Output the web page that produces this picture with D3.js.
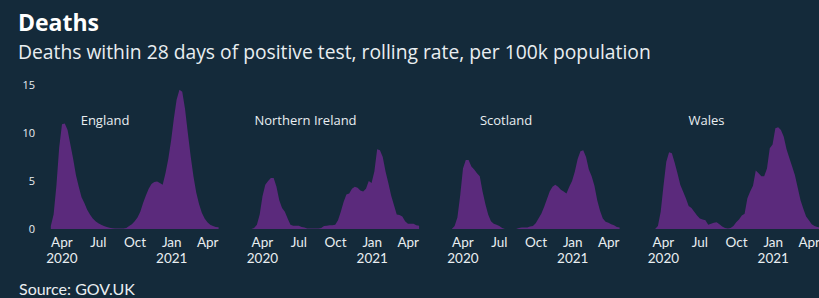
<!DOCTYPE html>
<html>
<head>
<meta charset="utf-8">
<script src="https://cdn.jsdelivr.net/npm/d3@7"></script>
<style>
  html, body { margin: 0; padding: 0; background: #142a3a; }
  svg { display: block; font-family: "Open Sans", sans-serif; }
</style>
</head>
<body>
<svg id="chart" width="819" height="298"></svg>
<script>
// nations, one small multiple each
var regions = [ 'England', 'Northern Ireland', 'Scotland', 'Wales' ];

// weekly rolling rate per 100k, weeks starting Mon 2 Mar 2020
var england = [
  0.3, 1.5, 4.5, 8.5, 10.9, 11.0, 10.3, 8.8, 7.3, 5.6,
  4.4, 3.3, 2.7, 2.0, 1.5, 1.1, 0.8, 0.6, 0.45, 0.3,
  0.2, 0.12, 0.08, 0.05, 0.05, 0.05, 0.05, 0.1, 0.3, 0.5,
  0.8, 1.2, 1.8, 2.7, 3.5, 4.2, 4.7, 4.9, 4.95, 4.8,
  4.6, 5.8, 7.3, 9.2, 11.5, 13.5, 14.5, 14.3, 12.5, 10.0,
  7.6, 5.5, 3.8, 2.6, 1.7, 1.1, 0.7, 0.45, 0.3, 0.22,
  0.18
];
var northernIreland = [
  0, 0.1, 0.45, 1.5, 3.4, 4.6, 5.0, 5.3, 5.3, 4.4,
  3.0, 2.2, 1.8, 1.1, 0.45, 0.35, 0.35, 0.35, 0.2, 0.15,
  0.05, 0.05, 0.05, 0.05, 0.05, 0.1, 0.3, 0.35, 0.4, 0.4,
  0.45, 0.9, 1.8, 2.8, 3.6, 3.7, 4.2, 4.4, 4.3, 4.0,
  3.9, 4.2, 5.0, 4.8, 6.0, 8.3, 8.2, 7.5, 6.0, 4.8,
  3.5, 2.5, 1.5, 1.45, 1.3, 0.8, 0.55, 0.55, 0.55, 0.4,
  0.35
];
var scotland = [
  0, 0.3, 1.2, 3.5, 6.3, 7.2, 7.2, 6.5, 6.2, 5.8,
  5.5, 3.9, 2.6, 1.5, 0.8, 0.55, 0.45, 0.3, 0.1, 0,
  0, 0, 0, 0, 0.1, 0.15, 0.15, 0.15, 0.25, 0.3,
  0.6, 1.1, 1.6, 2.3, 3.1, 3.9, 4.4, 4.6, 4.4, 4.1,
  3.9, 3.7, 4.4, 5.0, 6.0, 7.3, 8.1, 8.2, 7.5, 6.2,
  5.5, 4.5, 3.0, 1.9, 1.1, 0.75, 0.65, 0.5, 0.4, 0.2,
  0.15
];
var wales = [
  0, 0, 0.3, 1.8, 4.5, 7.0, 8.0, 7.9, 6.9, 5.8,
  4.6, 3.9, 3.2, 2.4, 2.2, 1.8, 1.4, 1.1, 1.0, 0.9,
  0.45, 0.55, 0.65, 0.7, 0.5, 0.25, 0.1, 0.05, 0.1, 0.3,
  0.7, 1.0, 1.4, 1.6, 3.2, 3.9, 4.5, 6.1, 5.8, 5.5,
  5.5, 6.3, 8.4, 8.8, 10.5, 10.6, 10.3, 9.6, 8.3, 7.4,
  6.5, 5.6, 4.3, 3.0, 2.1, 1.3, 0.9, 0.5, 0.3, 0.2,
  0.15
];

var series = [ england, northernIreland, scotland, wales ];

// axis ticks
var yTicks = [ 0, 5, 10, 15 ];
var xTickDates = [ new Date(2020, 3, 1), new Date(2020, 6, 1), new Date(2020, 9, 1), new Date(2021, 0, 1), new Date(2021, 3, 1) ];
var xTickMonths = [ 'Apr', 'Jul', 'Oct', 'Jan', 'Apr' ];
var xTickYears = [ '2020', '', '', '2021', '' ];

var weeks = d3.timeMonday.range( new Date(2020, 2, 2), new Date(2021, 4, 3) );

// layout
var panelLeft = 49,
    panelStep = 200.5,
    panelWidth = 173,
    plotTop = 85,
    plotBottom = 229;

var bg = '#142a3a',
    fill = '#5b2a7c',
    textColor = '#e9eef1';

var svg = d3.select('#chart');

svg.append('rect').attr('width', 819).attr('height', 298).attr('fill', bg);

var xScale = d3.scaleTime()
  .domain([ new Date(2020, 2, 1), new Date(2021, 4, 8) ])
  .range([ 0, panelWidth ]);

var yScale = d3.scaleLinear()
  .domain([ 0, 15 ])
  .range([ plotBottom, plotTop ]);

// each weekly value sits at the middle of its week
var area = d3.area()
  .x(function(d) { return xScale(d3.timeHour.offset(d.date, 84)); })
  .y0(yScale(0))
  .y1(function(d) { return yScale(d.value); });

// titles
svg.append('text')
  .attr('x', 18).attr('y', 31)
  .attr('fill', '#ffffff')
  .attr('font-size', 23).attr('font-weight', 700)
  .text('Deaths');

svg.append('text')
  .attr('x', 18).attr('y', 59)
  .attr('fill', textColor)
  .attr('font-size', 19.3)
  .text('Deaths within 28 days of positive test, rolling rate, per 100k population');

svg.append('text')
  .attr('x', 19).attr('y', 294.5)
  .attr('fill', textColor)
  .attr('font-size', 16)
  .attr('font-family', 'Lato, sans-serif')
  .text('Source: GOV.UK');

// y axis, first panel only
var yAxis = d3.axisLeft(yScale).tickValues(yTicks).tickSize(0).tickPadding(0);
var yG = svg.append('g')
  .attr('transform', 'translate(' + 35 + ',0)')
  .call(yAxis);
yG.select('.domain').remove();
yG.selectAll('text')
  .attr('fill', textColor)
  .attr('font-size', 11)
  .attr('font-family', '"Open Sans", sans-serif');

regions.forEach(function(name, i) {
  var g = svg.append('g')
    .attr('transform', 'translate(' + (panelLeft + i * panelStep) + ',0)');

  var pts = series[i].map(function(v, j) {
    return { date: weeks[j], value: v };
  });

  g.append('path')
    .datum(pts)
    .attr('fill', fill)
    .attr('d', area);

  g.append('text')
    .attr('x', 56).attr('y', 125)
    .attr('text-anchor', 'middle')
    .attr('fill', textColor)
    .attr('font-size', 13)
    .text(name);

  var xAxis = d3.axisBottom(xScale).tickValues(xTickDates).tickSize(0).tickFormat('');
  var xg = g.append('g')
    .attr('transform', 'translate(0,' + plotBottom + ')')
    .call(xAxis);
  xg.select('.domain').remove();

  // month and year as two separate labels
  xg.selectAll('.tick').append('text')
    .attr('fill', textColor)
    .attr('font-size', 13.5)
    .attr('font-family', 'Lato, sans-serif')
    .attr('text-anchor', 'middle')
    .attr('y', 17.5)
    .text(function(d, k) { return xTickMonths[k]; });
  xg.selectAll('.tick').filter(function(d, k) { return xTickYears[k] !== ''; })
    .append('text')
    .attr('fill', textColor)
    .attr('font-size', 13.5)
    .attr('font-family', 'Lato, sans-serif')
    .attr('text-anchor', 'middle')
    .attr('y', 34)
    .text(function(d) { return xTickYears[xTickDates.map(Number).indexOf(+d)]; });
});
</script>
</body>
</html>
